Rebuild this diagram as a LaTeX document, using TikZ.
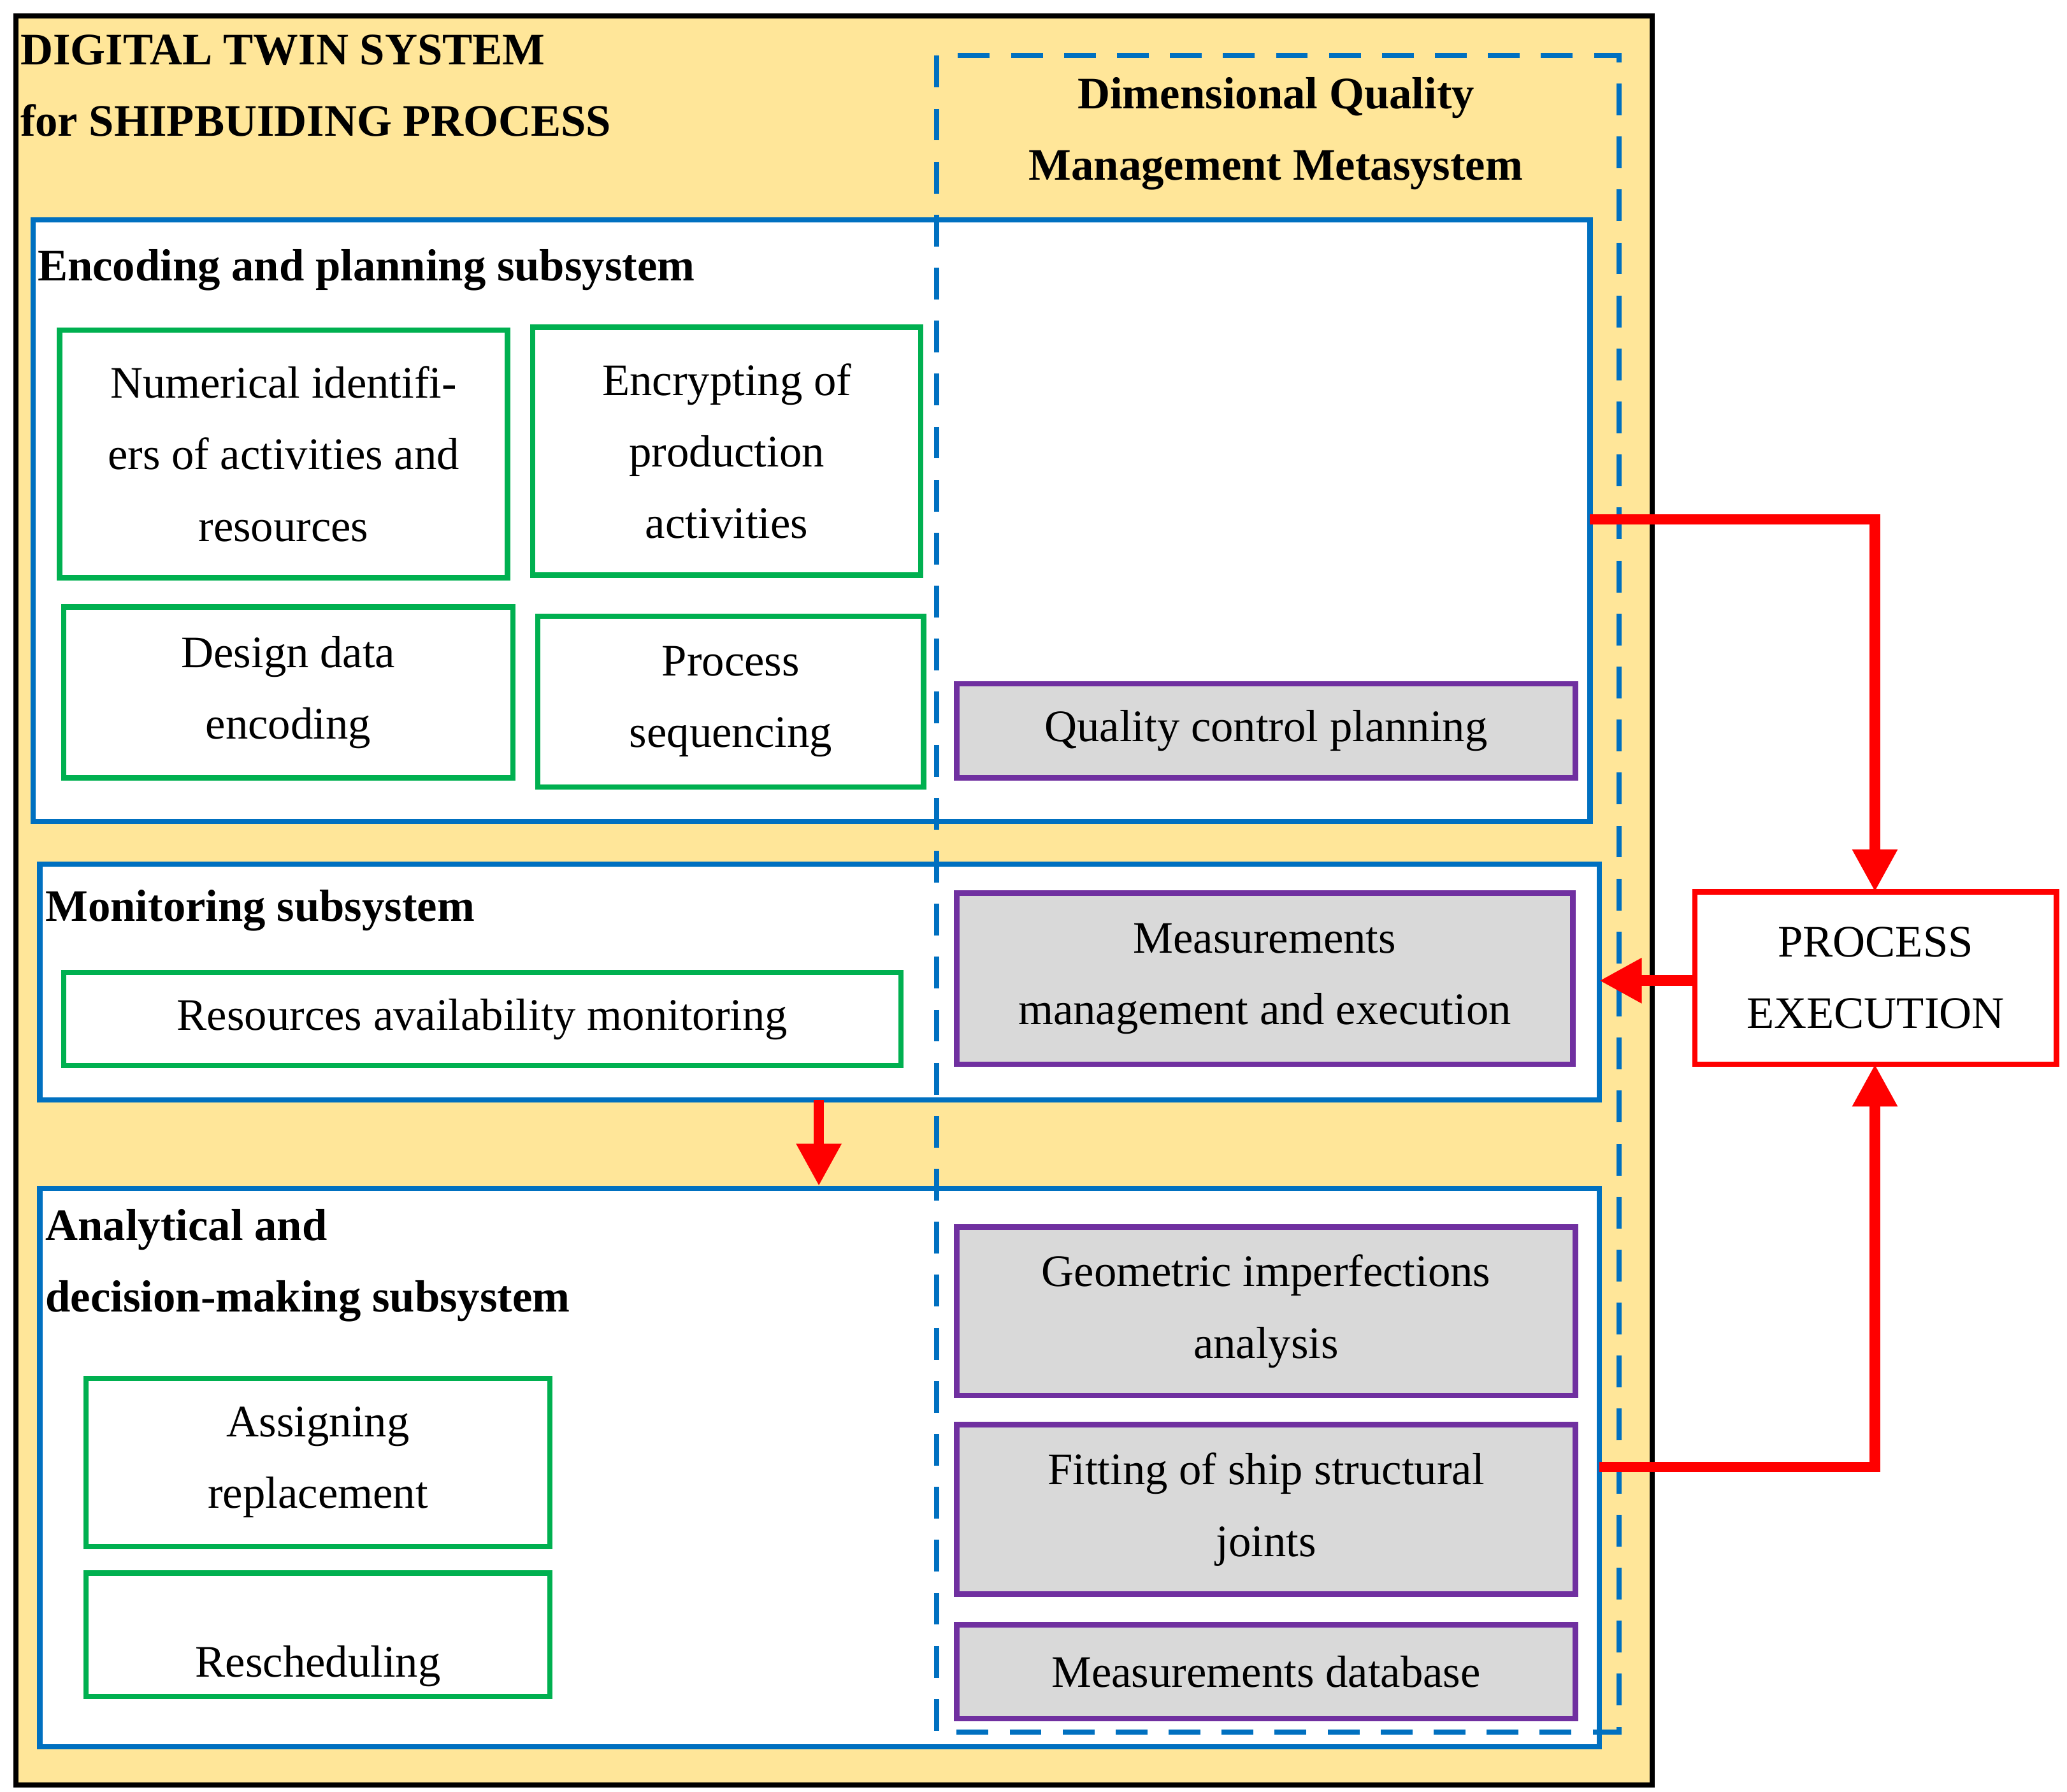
\documentclass[tikz,border=0pt]{standalone}
\usepackage{fontspec}
\setmainfont{Liberation Serif}
\usetikzlibrary{arrows.meta}
\definecolor{yel}{HTML}{FFE699}
\definecolor{bl}{HTML}{0070C0}
\definecolor{gr}{HTML}{00B050}
\definecolor{pu}{HTML}{7030A0}
\definecolor{gy}{HTML}{D9D9D9}
\begin{document}
\begin{tikzpicture}[x=0.5pt,y=-0.5pt,
 sub/.style={draw=bl,line width=2pt,fill=white},
 gbox/.style={draw=gr,line width=2pt,fill=white},
 pbox/.style={draw=pu,line width=2pt,fill=gy},
 txt/.style={font=\fontsize{17}{27}\selectfont,align=center},
 hd/.style={font=\fontsize{17}{27}\selectfont\bfseries,align=left,anchor=north west,inner sep=0pt},
 red/.style={draw=red,line width=4pt},
 rar/.style={red,-{Triangle[length=16pt,width=16pt]}}]
\useasboundingbox (0,0) rectangle (1560,1352);
\draw[line width=2pt,fill=yel] (12,12) rectangle (1247,1347);
\node[hd] (title) at (15,26) {DIGITAL TWIN SYSTEM\\for SHIPBUIDING PROCESS};
\node[hd,align=center,anchor=north] (meta) at (963,58) {Dimensional Quality\\Management Metasystem};
\draw[sub] (25,166) rectangle (1200,620);
\draw[sub] (30,652) rectangle (1207,830);
\draw[sub] (30,897) rectangle (1207,1318);
\node[hd] (enc) at (28,188) {Encoding and planning subsystem};
\node[hd] (mon) at (34,671) {Monitoring subsystem};
\node[hd] (ana) at (34,912) {Analytical and\\decision-making subsystem};
\draw[gbox] (45,249) rectangle (383,436) node[midway,txt] (g1) {Numerical identifi-\\ers of activities and\\resources};
\draw[gbox] (402,247) rectangle (695,434) node[midway,txt] (g2) {Encrypting of\\production\\activities};
\draw[gbox] (48,458) rectangle (387,587) node[midway,txt] (g3) {Design data\\encoding};
\draw[gbox] (406,465) rectangle (697,594) node[midway,txt] (g4) {Process\\sequencing};
\draw[gbox] (48,734) rectangle (680,804) node[midway,txt] (g5) {Resources availability monitoring};
\draw[gbox] (65,1040) rectangle (415,1167) node[midway,txt] (g6) {Assigning\\replacement};
\draw[gbox] (65,1187) rectangle (415,1280) node[midway,txt,yshift=-12pt] (g7) {Rescheduling};
\draw[pbox] (722,516) rectangle (1189,587) node[midway,txt] (p1) {Quality control planning};
\draw[pbox] (722,674) rectangle (1187,803) node[midway,txt] (p2) {Measurements\\management and execution};
\draw[pbox] (722,926) rectangle (1189,1053) node[midway,txt] (p3) {Geometric imperfections\\analysis};
\draw[pbox] (722,1075) rectangle (1189,1203) node[midway,txt] (p4) {Fitting of ship structural\\joints};
\draw[pbox] (722,1226) rectangle (1189,1297) node[midway,txt] (p5) {Measurements database};
\draw[bl,line width=2pt,dash pattern=on 12pt off 8pt] (707,42) rectangle (1222,1307);
\draw[red,line width=2pt,fill=white] (1279,673) rectangle (1552,803) node[midway,txt] (pe) {PROCESS\\EXECUTION};
\coordinate (a1) at (1200,392); \coordinate (a2) at (1415,392);
\coordinate (pet) at (1415,673);
\draw[rar] (a1) -- (a2) -- (pet);
\coordinate (pel) at (1279,740); \coordinate (ml) at (1207,740);
\draw[rar] (pel) -- (ml);
\coordinate (b1) at (1207,1107); \coordinate (b2) at (1415,1107); \coordinate (peb) at (1415,803);
\draw[rar] (b1) -- (b2) -- (peb);
\coordinate (m1) at (618,830); \coordinate (m2) at (618,895);
\draw[rar] (m1) -- (m2);
\end{tikzpicture}
\end{document}
